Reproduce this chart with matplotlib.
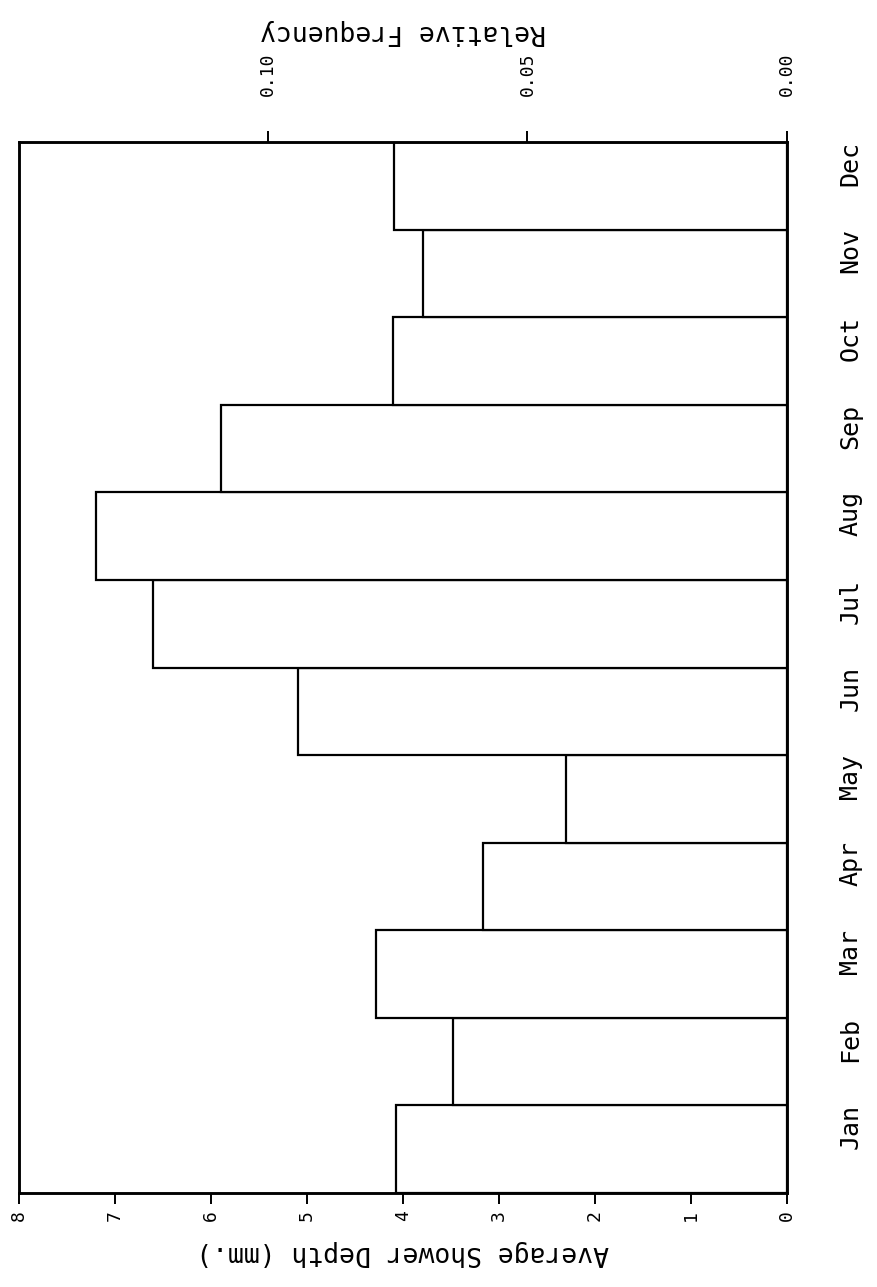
import numpy as np
import matplotlib
matplotlib.use("Agg")
import matplotlib.pyplot as plt

months = ["Jan", "Feb", "Mar", "Apr", "May", "Jun",
          "Jul", "Aug", "Sep", "Oct", "Nov", "Dec"]
depth_mm = [4.07, 3.48, 4.28, 3.17, 2.30, 5.09, 6.60, 7.20, 5.90, 4.10, 3.79, 4.09]
depth_ticks = [0, 1, 2, 3, 4, 5, 6, 7, 8]
freq_ticks = [0.00, 0.05, 0.10]

plt.rcParams['font.family'] = ['DejaVu Sans Mono', 'DejaVu Sans']

total = sum(depth_mm)  # relative frequency = depth / annual total

fig = plt.figure(figsize=(8.78, 12.87), dpi=100)
ax = fig.add_axes([19 / 878, 94 / 1287, 768 / 878, 1051 / 1287])

y = np.arange(len(months))
ax.barh(y, depth_mm, height=1.0, color="white", edgecolor="black", linewidth=1.6)
ax.set_xlim(8, 0)
ax.set_ylim(-0.5, len(months) - 0.5)

for s in ax.spines.values():
    s.set_linewidth(1.8)

# depth axis along the bottom, labels turned sideways
ax.set_xticks(depth_ticks)
ax.set_xticklabels([str(t) for t in depth_ticks], rotation=90)
ax.tick_params(axis="x", direction="out", length=8, width=1.4, pad=4, labelsize=13)
ax.set_xlabel("Average Shower Depth (mm.)", rotation=180, fontsize=19, labelpad=14)

# month names on the right
ax.yaxis.tick_right()
ax.set_yticks(y)
ax.set_yticklabels(months, rotation=90, va="bottom")
ax.tick_params(axis="y", length=0, pad=37, labelsize=18)

# relative frequency on top
ax2 = ax.twiny()
ax2.set_xlim(8 / total, 0)
ax2.set_xticks(freq_ticks)
ax2.set_xticklabels(["%.2f" % t for t in freq_ticks], rotation=90)
ax2.tick_params(axis="x", direction="out", length=8, width=1.4, pad=25, labelsize=13)
ax2.set_xlabel("Relative Frequency", rotation=180, fontsize=19, labelpad=10)
for s in ax2.spines.values():
    s.set_linewidth(1.8)

fig.savefig("out.png", dpi=100)
